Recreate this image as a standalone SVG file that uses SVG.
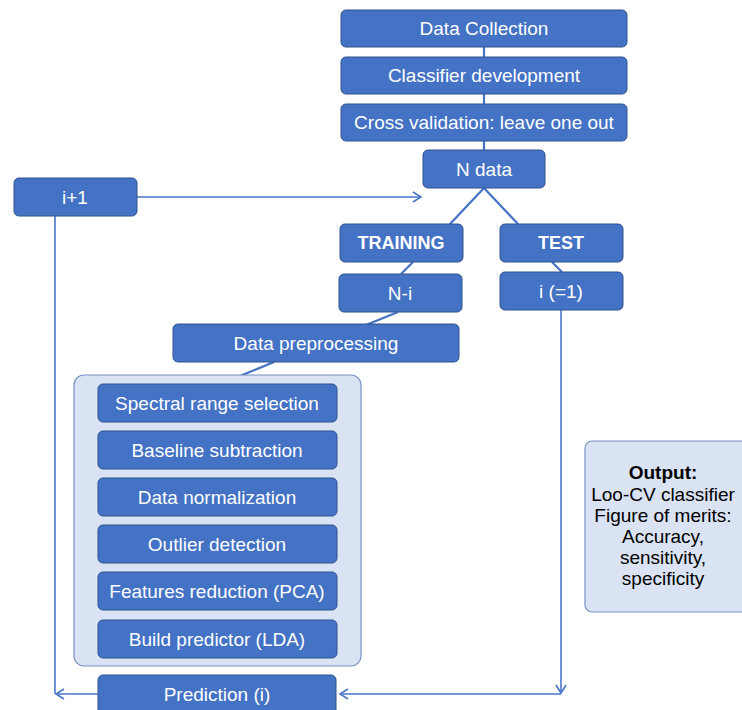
<svg xmlns="http://www.w3.org/2000/svg" width="742" height="710" viewBox="0 0 742 710">
<style>
.b{fill:#4472C4;stroke:#2F528F;stroke-width:1}
.t{font-family:"Liberation Sans",Arial,sans-serif;font-size:19px;fill:#FFFFFF;text-anchor:middle}
.bt{font-family:"Liberation Sans",Arial,sans-serif;font-size:18px;font-weight:bold;fill:#FFFFFF;text-anchor:middle}
.c{stroke:#4472C4;stroke-width:2.2;fill:none}
.a{stroke:#4A76C8;stroke-width:1.6;fill:none}
.g{fill:#DAE3F3;stroke:#7890C4;stroke-width:1.2}
.o{font-family:"Liberation Sans",Arial,sans-serif;font-size:19px;fill:#000000;text-anchor:middle}
</style>
<defs>
<marker id="ah" markerWidth="12" markerHeight="12" refX="10" refY="6" orient="auto" markerUnits="userSpaceOnUse">
<path d="M2,1 L10,6 L2,11" fill="none" stroke="#4A76C8" stroke-width="1.6"/>
</marker>
</defs>
<rect width="742" height="710" fill="#FFFFFF"/>
<g id="connectors">
<line class="c" x1="484" y1="47" x2="484" y2="57"/>
<line class="c" x1="484" y1="94" x2="484" y2="104"/>
<line class="c" x1="484" y1="141" x2="484" y2="150"/>
<line class="c" x1="484" y1="188" x2="450" y2="224"/>
<line class="c" x1="484" y1="188" x2="518" y2="224"/>
<line class="c" x1="413" y1="262" x2="401" y2="274"/>
<line class="c" x1="552" y1="262" x2="562" y2="272"/>
<line class="c" x1="398" y1="312" x2="366" y2="325"/>
<line class="c" x1="274" y1="362" x2="240" y2="376"/>
<line class="a" x1="137" y1="197" x2="421" y2="197" marker-end="url(#ah)"/>
<line class="a" x1="55" y1="216" x2="55" y2="694"/>
<line class="a" x1="98" y1="694" x2="56" y2="694" marker-end="url(#ah)"/>
<line class="a" x1="561" y1="310" x2="561" y2="693" marker-end="url(#ah)"/>
<line class="a" x1="561" y1="694" x2="340" y2="694" marker-end="url(#ah)"/>
</g>
<g id="data-collection"><rect class="b" x="341" y="10" width="286" height="37" rx="5"/><text class="t" x="484" y="35">Data Collection</text></g>
<g id="classifier-development"><rect class="b" x="341" y="57" width="286" height="37" rx="5"/><text class="t" x="484" y="82">Classifier development</text></g>
<g id="cross-validation"><rect class="b" x="341" y="104" width="286" height="37" rx="5"/><text class="t" x="484" y="129">Cross validation: leave one out</text></g>
<g id="n-data"><rect class="b" x="423" y="150" width="122" height="38" rx="5"/><text class="t" x="484" y="176">N data</text></g>
<g id="i-plus-1"><rect class="b" x="14" y="178" width="123" height="38" rx="5"/><text class="t" x="75" y="204">i+1</text></g>
<g id="training"><rect class="b" x="340" y="224" width="123" height="38" rx="5"/><text class="bt" x="401" y="249">TRAINING</text></g>
<g id="test"><rect class="b" x="500" y="224" width="123" height="38" rx="5"/><text class="bt" x="561" y="249">TEST</text></g>
<g id="n-minus-i"><rect class="b" x="339" y="274" width="123" height="38" rx="5"/><text class="t" x="400" y="300">N-i</text></g>
<g id="i-eq-1"><rect class="b" x="500" y="272" width="123" height="38" rx="5"/><text class="t" x="561" y="298">i (=1)</text></g>
<g id="data-preprocessing"><rect class="b" x="173" y="324" width="286" height="38" rx="5"/><text class="t" x="316" y="350">Data preprocessing</text></g>
<g id="preprocessing-group">
<rect class="g" x="74" y="375" width="287" height="291" rx="10"/>
<g id="spectral-range"><rect class="b" x="98" y="384" width="239" height="38" rx="5"/><text class="t" x="217" y="410">Spectral range selection</text></g>
<g id="baseline"><rect class="b" x="98" y="431" width="239" height="38" rx="5"/><text class="t" x="217" y="457">Baseline subtraction</text></g>
<g id="normalization"><rect class="b" x="98" y="478" width="239" height="38" rx="5"/><text class="t" x="217" y="504">Data normalization</text></g>
<g id="outlier"><rect class="b" x="98" y="525" width="239" height="38" rx="5"/><text class="t" x="217" y="551">Outlier detection</text></g>
<g id="features"><rect class="b" x="98" y="572" width="239" height="38" rx="5"/><text class="t" x="217" y="598">Features reduction (PCA)</text></g>
<g id="build-predictor"><rect class="b" x="98" y="620" width="239" height="38" rx="5"/><text class="t" x="217" y="646">Build predictor (LDA)</text></g>
</g>
<g id="prediction"><rect class="b" x="98" y="675" width="238" height="40" rx="5"/><text class="t" x="217" y="701">Prediction (i)</text></g>
<g id="output">
<rect class="g" x="585" y="441" width="165" height="171" rx="7"/>
<text class="o" x="663" y="479" font-weight="bold">Output:</text>
<text class="o" x="663" y="501">Loo-CV classifier</text>
<text class="o" x="663" y="522">Figure of merits:</text>
<text class="o" x="663" y="543">Accuracy,</text>
<text class="o" x="663" y="564">sensitivity,</text>
<text class="o" x="663" y="585">specificity</text>
</g>
</svg>
